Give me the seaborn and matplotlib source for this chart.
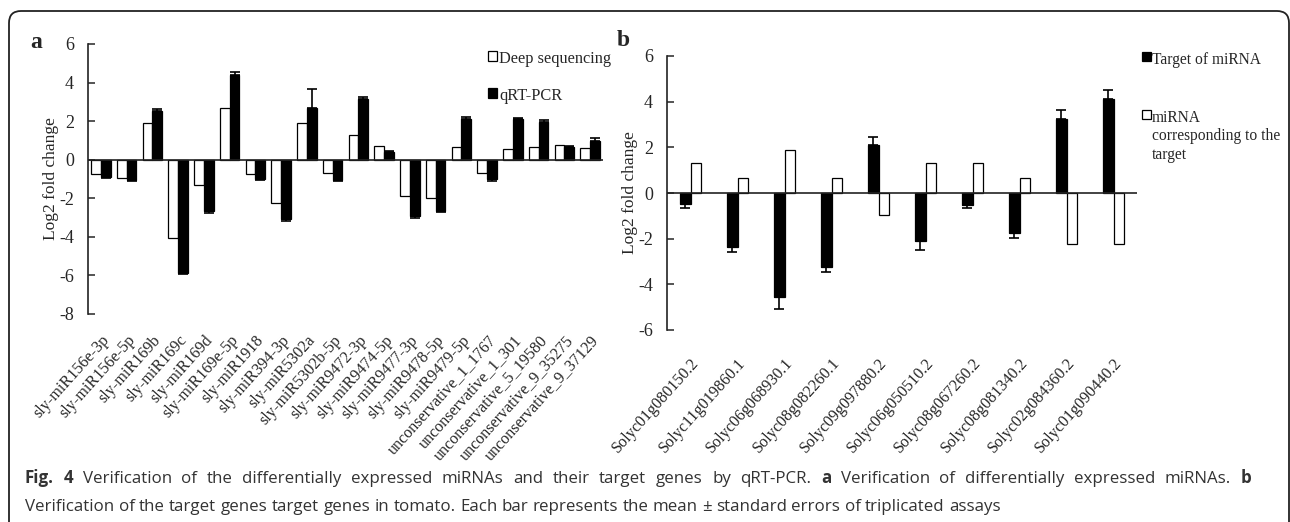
import numpy as np
import pandas as pd
import matplotlib
matplotlib.use("Agg")
import matplotlib.pyplot as plt
import seaborn as sns
from matplotlib.patches import Patch, FancyBboxPatch
from matplotlib.transforms import IdentityTransform

# ---- data: panel a (miRNAs) ----
mirnas = ["sly-miR156e-3p", "sly-miR156e-5p", "sly-miR169b", "sly-miR169c",
          "sly-miR169d", "sly-miR169e-5p", "sly-miR1918", "sly-miR394-3p",
          "sly-miR5302a", "sly-miR5302b-5p", "sly-miR9472-3p", "sly-miR9474-5p",
          "sly-miR9477-3p", "sly-miR9478-5p", "sly-miR9479-5p",
          "unconservative_1_1767", "unconservative_1_301", "unconservative_5_19580",
          "unconservative_9_35275", "unconservative_9_37129"]
deep_seq = [-0.75, -0.95, 1.9, -4.05, -1.3, 2.67, -0.72, -2.24, 1.9, -0.68,
            1.28, 0.69, -1.86, -1.98, 0.67, -0.68, 0.57, 0.67, 0.74, 0.6]
qrt_pcr = [-0.9, -1.03, 2.53, -5.85, -2.68, 4.37, -1.0, -3.1, 2.67, -1.03,
           3.14, 0.38, -2.93, -2.68, 2.12, -1.0, 2.1, 1.98, 0.67, 0.99]
qrt_err = [0.05, 0.07, 0.1, 0.1, 0.07, 0.16, 0.05, 0.1, 1.0, 0.07,
           0.12, 0.07, 0.07, 0.03, 0.12, 0.1, 0.07, 0.07, 0.02, 0.16]

# ---- data: panel b (target genes) ----
genes = ["Solyc01g080150.2", "Solyc11g019860.1", "Solyc06g068930.1",
         "Solyc08g082260.1", "Solyc09g097880.2", "Solyc06g050510.2",
         "Solyc08g067260.2", "Solyc08g081340.2", "Solyc02g084360.2",
         "Solyc01g090440.2"]
target = [-0.48, -2.37, -4.55, -3.25, 2.1, -2.12, -0.53, -1.76, 3.23, 4.1]
target_err = [0.17, 0.23, 0.55, 0.2, 0.36, 0.38, 0.12, 0.23, 0.4, 0.43]
mirna_corr = [1.3, 0.65, 1.88, 0.67, -0.95, 1.3, 1.3, 0.67, -2.24, -2.24]

W, H = 1290, 522
sns.set_style("white")
plt.rcParams["font.family"] = ["Liberation Serif", "DejaVu Serif"]
plt.rcParams["axes.unicode_minus"] = False

fig = plt.figure(figsize=(W / 100, H / 100), dpi=100)

def px_axes(x0, x1, ytop, ybot):
    return fig.add_axes([x0 / W, 1 - ybot / H, (x1 - x0) / W, (ybot - ytop) / H])

def style_axis(ax, ylim, yticks, xpad):
    ax.set_ylim(*ylim)
    ax.set_yticks(yticks)
    ax.set_xlabel("")
    ax.set_ylabel("Log2 fold change", fontsize=12.5, labelpad=0)
    for s in ["top", "right", "bottom"]:
        ax.spines[s].set_visible(False)
    ax.spines["left"].set_linewidth(1.2)
    ax.spines["left"].set_color("#222")
    ax.axhline(0, color="#222", lw=1.2, zorder=5)
    ax.tick_params(axis="y", direction="in", length=5, width=1.1,
                   labelsize=13, pad=10, left=True)
    ax.tick_params(axis="x", length=0, labelsize=11.6, pad=xpad)
    plt.setp(ax.get_xticklabels(), rotation=48, ha="right",
             rotation_mode="anchor")

def add_err(ax, container, errs):
    xs = [b.get_x() + b.get_width() / 2 for b in container]
    hs = [b.get_height() for b in container]
    lo = [e if h < 0 else 0 for h, e in zip(hs, errs)]
    hi = [e if h >= 0 else 0 for h, e in zip(hs, errs)]
    ax.errorbar(xs, hs, yerr=[lo, hi], fmt="none", ecolor="black",
                elinewidth=1.2, capsize=3.6, capthick=1.2, zorder=6)

def top_align(leg):
    # put the legend marker next to the first line of a multi-line label
    for col in leg._legend_handle_box.get_children():
        for row in col.get_children():
            row.align = "top"

# ---- panel a ----
df_a = pd.DataFrame({
    "miRNA": mirnas * 2,
    "value": deep_seq + qrt_pcr,
    "method": ["Deep sequencing"] * len(mirnas) + ["qRT-PCR"] * len(mirnas),
})
ax1 = px_axes(88, 603, 44, 314)
sns.barplot(data=df_a, x="miRNA", y="value", hue="method",
            hue_order=["Deep sequencing", "qRT-PCR"],
            palette={"Deep sequencing": "white", "qRT-PCR": "black"},
            edgecolor="black", linewidth=0.9, width=0.76, errorbar=None,
            legend=False, ax=ax1)
style_axis(ax1, (-8, 6), range(-8, 7, 2), 13)
ax1.set_xlim(-0.5, len(mirnas) - 0.5)
add_err(ax1, ax1.containers[1], qrt_err)
leg1 = ax1.legend(handles=[Patch(facecolor="white", edgecolor="black", lw=0.9),
                           Patch(facecolor="black", edgecolor="black", lw=0.9)],
                  labels=["Deep sequencing", "qRT-PCR"], frameon=False, fontsize=11.8,
                  handlelength=0.55, handleheight=0.55, handletextpad=0.12,
                  labelspacing=1.3, borderpad=0, borderaxespad=0, loc="upper left",
                  bbox_to_anchor=(488 / W, 1 - 51 / H), bbox_transform=fig.transFigure)
top_align(leg1)

# ---- panel b ----
df_b = pd.DataFrame({
    "gene": genes * 2,
    "value": target + mirna_corr,
    "kind": ["Target of miRNA"] * len(genes) + ["miRNA corresponding to the target"] * len(genes),
})
ax2 = px_axes(667, 1137, 56, 330)
sns.barplot(data=df_b, x="gene", y="value", hue="kind",
            hue_order=["Target of miRNA", "miRNA corresponding to the target"],
            palette={"Target of miRNA": "black",
                     "miRNA corresponding to the target": "white"},
            edgecolor="black", linewidth=0.9, width=0.43, errorbar=None,
            legend=False, ax=ax2)
style_axis(ax2, (-6, 6), range(-6, 7, 2), 18)
ax2.set_xlim(-0.5, len(genes) - 0.5)
add_err(ax2, ax2.containers[0], target_err)
leg2 = ax2.legend(handles=[Patch(facecolor="black", edgecolor="black", lw=0.9),
                           Patch(facecolor="white", edgecolor="black", lw=0.9)],
                  labels=["Target of miRNA", "miRNA\ncorresponding to the\ntarget"],
                  frameon=False, fontsize=11.2,
                  handlelength=0.55, handleheight=0.55, handletextpad=0.1,
                  labelspacing=2.7, borderpad=0, borderaxespad=0, loc="upper left",
                  bbox_to_anchor=(1142 / W, 1 - 52 / H), bbox_transform=fig.transFigure)
top_align(leg2)

# panel letters
fig.text(30 / W, 1 - 42 / H, "a", fontsize=17, fontweight="bold", va="center")
fig.text(617 / W, 1 - 40 / H, "b", fontsize=17, fontweight="bold", va="center")

# ---- rounded border ----
fig.add_artist(FancyBboxPatch((9, -30), 1280, H - 11 + 30,
                              boxstyle="round,pad=0,rounding_size=12",
                              transform=IdentityTransform(), fill=False,
                              edgecolor="#222", lw=1.3))

# ---- caption (first line justified, second line ragged) ----
renderer = fig.canvas.get_renderer()
cap_font = ["Open Sans", "DejaVu Sans"]
cap_size = 12.2
line1 = [("Fig.", True), ("4", True)] + \
    [(w, False) for w in "Verification of the differentially expressed miRNAs and their "
     "target genes by qRT-PCR.".split()] + [("a", True)] + \
    [(w, False) for w in "Verification of differentially expressed miRNAs.".split()] + \
    [("b", True)]
line2 = [(w, False) for w in ("Verification of the target genes target genes in tomato. "
                              "Each bar represents the mean \u00b1 standard errors of "
                              "triplicated assays").split()]

def text_width(s):
    t = fig.text(0, 0, s, family=cap_font, fontsize=cap_size)
    w = t.get_window_extent(renderer).width
    t.remove()
    return w

space_w = text_width("a a") - 2 * text_width("a")

def draw_line(words, yb, x_end=None):
    texts = [fig.text(0, H - yb, w, transform=IdentityTransform(), family=cap_font,
                      fontsize=cap_size, color="#333", va="baseline",
                      fontweight="bold" if b else "normal") for w, b in words]
    widths = [t.get_window_extent(renderer).width for t in texts]
    sw = space_w
    if x_end is not None:
        sw = max(space_w, (x_end - 25 - sum(widths)) / (len(words) - 1))
    x = 25
    for t, w in zip(texts, widths):
        t.set_x(x)
        x += w + sw

draw_line(line1, 483, x_end=1251)
draw_line(line2, 511)

fig.savefig("out.png", dpi=100)
